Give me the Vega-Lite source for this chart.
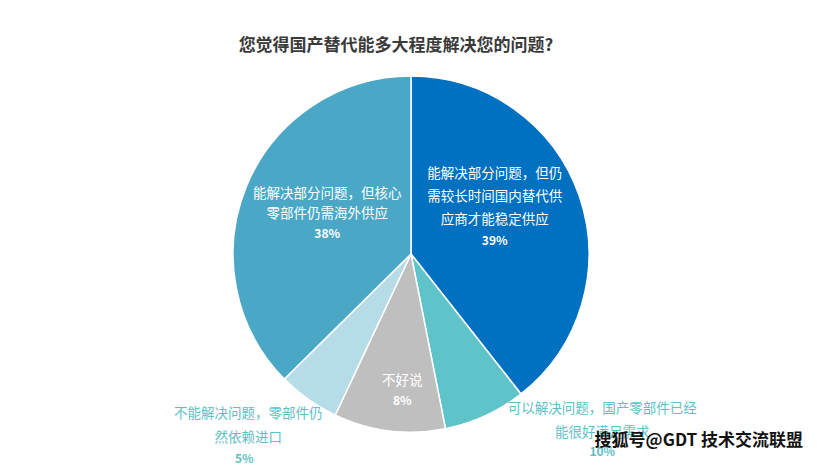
{
  "$schema": "https://vega.github.io/schema/vega-lite/v6.json",
  "width": 820,
  "height": 468,
  "autosize": {"type": "fit", "contains": "padding"},
  "padding": {"top": 37, "bottom": 0, "left": 2, "right": 0},
  "background": "white",
  "config": {"view": {"stroke": null}, "font": "Noto Sans CJK SC"},
  "title": {
    "text": "您觉得国产替代能多大程度解决您的问题?",
    "font": "Noto Sans CJK SC",
    "fontSize": 17,
    "fontWeight": "bold",
    "color": "#3a3a3a",
    "anchor": "middle",
    "dx": -15,
    "offset": -6
  },
  "layer": [
    {
      "data": {
        "values": [
          {"rank": 1, "answer": "能解决部分问题，但仍需较长时间国内替代供应商才能稳定供应", "lines": ["能解决部分问题，但仍", "需较长时间国内替代供", "应商才能稳定供应"], "pct": "39%", "share": 39.4},
          {"rank": 2, "answer": "可以解决问题，国产零部件已经能很好满足需求", "lines": ["可以解决问题，国产零部件已经", "能很好满足需求"], "pct": "10%", "share": 7.5},
          {"rank": 3, "answer": "不好说", "lines": ["不好说"], "pct": "8%", "share": 10.1},
          {"rank": 4, "answer": "不能解决问题，零部件仍然依赖进口", "lines": ["不能解决问题，零部件仍", "然依赖进口"], "pct": "5%", "share": 5.6},
          {"rank": 5, "answer": "能解决部分问题，但核心零部件仍需海外供应", "lines": ["能解决部分问题，但核心", "零部件仍需海外供应"], "pct": "38%", "share": 37.4}
        ]
      },
      "encoding": {
        "theta": {"field": "share", "type": "quantitative", "stack": true},
        "order": {"field": "rank", "type": "quantitative"}
      },
      "layer": [
        {
          "mark": {"type": "arc", "radius": 178, "stroke": "white", "strokeWidth": 1.5},
          "encoding": {
            "color": {
              "field": "answer",
              "type": "nominal",
              "legend": null,
              "scale": {
                "domain": ["能解决部分问题，但仍需较长时间国内替代供应商才能稳定供应", "可以解决问题，国产零部件已经能很好满足需求", "不好说", "不能解决问题，零部件仍然依赖进口", "能解决部分问题，但核心零部件仍需海外供应"],
                "range": ["#0070c0", "#5ec4ca", "#bfbfbf", "#b5dce7", "#4aa8c6"]
              }
            }
          }
        },
        {
          "mark": {"type": "text", "radius": 96, "dx": -7, "dy": -49, "fill": "white", "fontSize": 13.5, "lineHeight": 23, "align": "center", "baseline": "middle"},
          "encoding": {"text": {"condition": {"test": "datum.rank === 1", "field": "lines", "type": "nominal"}, "value": ""}}
        },
        {
          "mark": {"type": "text", "radius": 96, "dx": -7, "dy": 18, "fill": "white", "fontSize": 12, "fontWeight": "bold", "align": "center", "baseline": "middle"},
          "encoding": {"text": {"condition": {"test": "datum.rank === 1", "field": "pct", "type": "nominal"}, "value": ""}}
        },
        {
          "mark": {"type": "text", "radius": 93, "dx": 2, "dy": -24, "fill": "white", "fontSize": 13.5, "lineHeight": 20, "align": "center", "baseline": "middle"},
          "encoding": {"text": {"condition": {"test": "datum.rank === 5", "field": "lines", "type": "nominal"}, "value": ""}}
        },
        {
          "mark": {"type": "text", "radius": 93, "dx": 2, "dy": 16, "fill": "white", "fontSize": 12, "fontWeight": "bold", "align": "center", "baseline": "middle"},
          "encoding": {"text": {"condition": {"test": "datum.rank === 5", "field": "pct", "type": "nominal"}, "value": ""}}
        },
        {
          "mark": {"type": "text", "radius": 137, "dx": 8, "dy": -9, "fill": "white", "fontSize": 13.5, "align": "center", "baseline": "middle"},
          "encoding": {"text": {"condition": {"test": "datum.rank === 3", "field": "lines", "type": "nominal"}, "value": ""}}
        },
        {
          "mark": {"type": "text", "radius": 137, "dx": 8, "dy": 11, "fill": "white", "fontSize": 12, "fontWeight": "bold", "align": "center", "baseline": "middle"},
          "encoding": {"text": {"condition": {"test": "datum.rank === 3", "field": "pct", "type": "nominal"}, "value": ""}}
        },
        {
          "mark": {"type": "text", "radius": 178, "dx": 117, "dy": -7, "fill": "#5ebfc6", "fontSize": 13.5, "lineHeight": 24, "align": "center", "baseline": "middle"},
          "encoding": {"text": {"condition": {"test": "datum.rank === 2", "field": "lines", "type": "nominal"}, "value": ""}}
        },
        {
          "mark": {"type": "text", "radius": 178, "dx": 117, "dy": 36, "fill": "#5ebfc6", "fontSize": 12, "fontWeight": "bold", "align": "center", "baseline": "middle"},
          "encoding": {"text": {"condition": {"test": "datum.rank === 2", "field": "pct", "type": "nominal"}, "value": ""}}
        },
        {
          "mark": {"type": "text", "radius": 178, "dx": -60, "dy": 15, "fill": "#5ebfc6", "fontSize": 13.5, "lineHeight": 24, "align": "center", "baseline": "middle"},
          "encoding": {"text": {"condition": {"test": "datum.rank === 4", "field": "lines", "type": "nominal"}, "value": ""}}
        },
        {
          "mark": {"type": "text", "radius": 178, "dx": -64, "dy": 60, "fill": "#5ebfc6", "fontSize": 12, "fontWeight": "bold", "align": "center", "baseline": "middle"},
          "encoding": {"text": {"condition": {"test": "datum.rank === 4", "field": "pct", "type": "nominal"}, "value": ""}}
        }
      ]
    },
    {
      "data": {"values": [{"note": "搜狐号@GDT 技术交流联盟"}]},
      "mark": {"type": "text", "align": "right", "baseline": "middle", "dx": -17, "dy": -18, "fontSize": 17, "fontWeight": "bold", "fill": "#111111"},
      "encoding": {
        "x": {"value": "width"},
        "y": {"value": "height"},
        "text": {"field": "note", "type": "nominal"}
      }
    }
  ]
}
